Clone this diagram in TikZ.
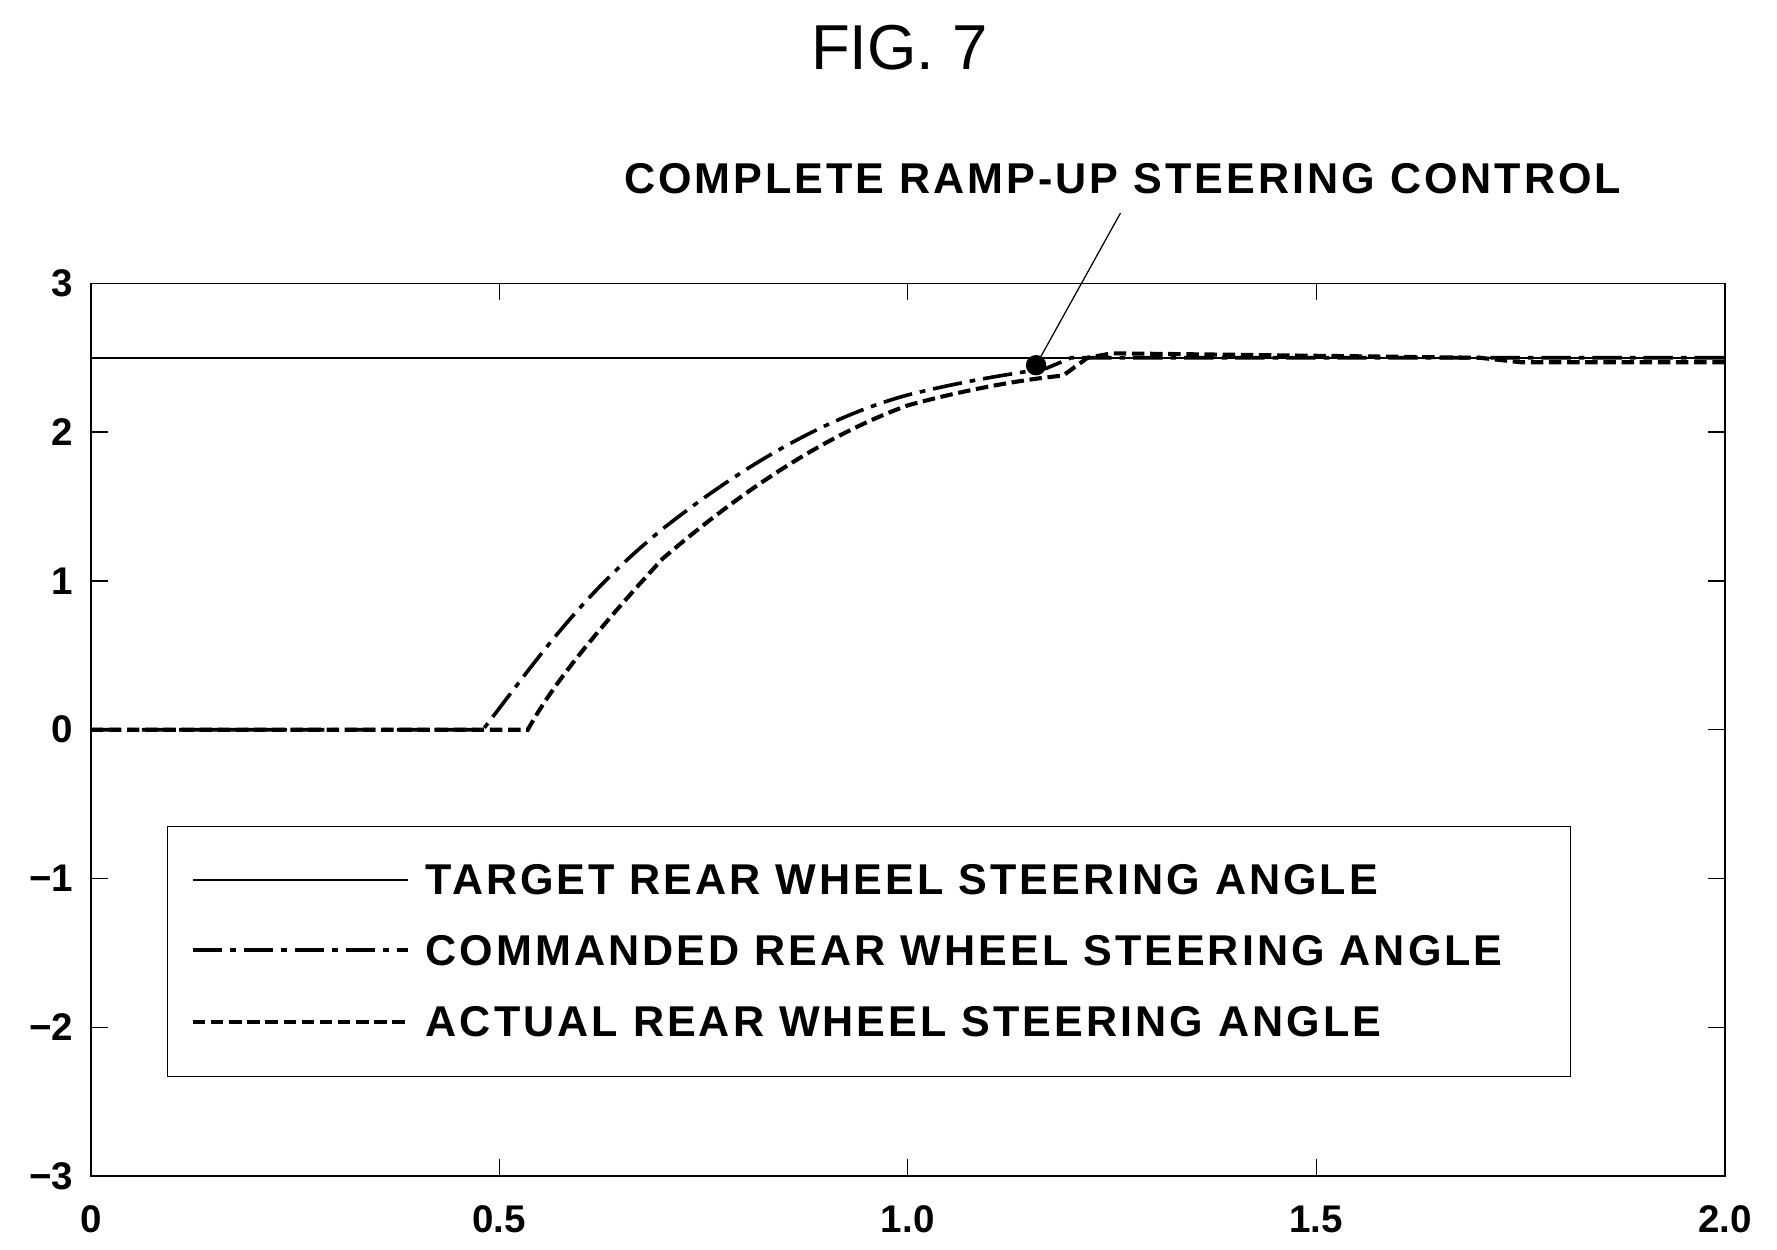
\documentclass[tikz,border=0pt]{standalone}
\usepackage{fontspec}
\setmainfont{Liberation Sans}
\begin{document}
\begin{tikzpicture}[x=1pt,y=1pt,
  tick/.style={font=\bfseries\fontsize{34}{36}\selectfont},
  leg/.style={font=\bfseries\fontsize{38}{40}\selectfont\addfontfeature{LetterSpace=7},anchor=west},
  cmd/.style={line width=3.2pt,dash pattern=on 26pt off 7pt on 5pt off 7pt},
  act/.style={line width=3.6pt,dash pattern=on 11pt off 5pt},
  tgt/.style={line width=1.6pt}]
\useasboundingbox (0,0) rectangle (1567,1102);
\node[font=\fontsize{56}{60}\selectfont] (title) at (793,1060) {FIG. 7};
\draw[line width=1.5pt] (80,65) rectangle (1521,852);
\foreach \v/\l in {3/3,2/2,1/1,0/0,-1/{−1},-2/{−2},-3/{−3}}{
  \draw[line width=1.2pt] (80,458.5+131.2*\v) -- ++(15,0);
  \draw[line width=1.2pt] (1521,458.5+131.2*\v) -- ++(-15,0);
  \node[tick,anchor=east] at (68,458.5+131.2*\v) {\l};
}
\foreach \u/\l in {0/0,0.5/0.5,1/1.0,1.5/1.5,2/2.0}{
  \draw[line width=1.2pt] (80+720.5*\u,65) -- ++(0,15);
  \draw[line width=1.2pt] (80+720.5*\u,852) -- ++(0,-15);
  \node[tick] at (80+720.5*\u,27) {\l};
}
\begin{scope}[shift={(80,458.5)},x=720.5pt,y=131.2pt]
\draw[tgt] (0,2.5) -- (2,2.5);
\draw[cmd] (0,0) -- (0.48,0) .. controls (0.55,0.5) and (0.6,0.9) .. (0.7,1.35)
  .. controls (0.8,1.78) and (0.9,2.1) .. (1.0,2.25)
  .. controls (1.08,2.36) and (1.14,2.4) .. (1.17,2.43) -- (1.2,2.5) -- (2,2.5);
\draw[act] (0,0) -- (0.535,0) .. controls (0.56,0.25) and (0.6,0.55) .. (0.7,1.15)
  .. controls (0.8,1.62) and (0.9,1.98) .. (1.0,2.18)
  .. controls (1.08,2.3) and (1.15,2.36) .. (1.19,2.38) -- (1.22,2.5) -- (1.25,2.53)
  -- (1.7,2.5) -- (1.75,2.47) -- (2,2.47);
\fill (1.157,2.45) circle[radius=9pt];
\coordinate (dotc) at (1.157,2.45);
\end{scope}
\node[font=\bfseries\fontsize{38}{40}\selectfont\addfontfeature{LetterSpace=7}] (ann) at (990,944) {COMPLETE RAMP-UP STEERING CONTROL};
\draw[line width=1.1pt] (988,914) coordinate (annp) -- (dotc);
\draw[line width=1.1pt] (148,153) rectangle (1385,373);
\draw[tgt] (170,326) -- (360,326);
\draw[cmd] (170,264) -- (360,264);
\draw[act] (170,201) -- (360,201);
\node[leg] (l1) at (372,326) {TARGET REAR WHEEL STEERING ANGLE};
\node[leg] (l2) at (372,264) {COMMANDED REAR WHEEL STEERING ANGLE};
\node[leg] (l3) at (372,201) {ACTUAL REAR WHEEL STEERING ANGLE};
\end{tikzpicture}
\end{document}
